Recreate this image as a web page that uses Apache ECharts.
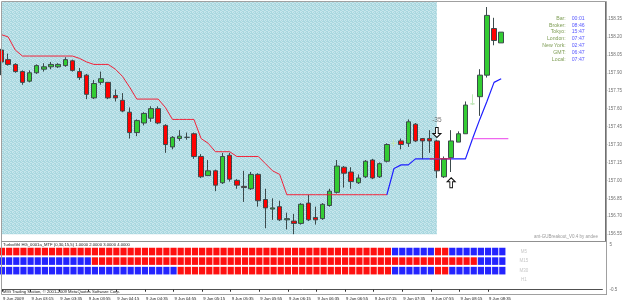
<!DOCTYPE html>
<html>
<head>
<meta charset="utf-8">
<script src="https://cdn.jsdelivr.net/npm/echarts@6/dist/echarts.min.js"></script>
<style>
html, body { margin: 0; padding: 0; background: #fff; }
#main { width: 625px; height: 304px; }
</style>
</head>
<body>
<div id="main"></div>
<script>
// bar data, 5 minute bars from 02:55
var ohlc = [
  [158.09, 157.99, 157.88, 158.10], [158.01, 157.97, 157.96, 158.06], [157.97, 157.91, 157.90, 157.98],
  [157.91, 157.82, 157.80, 157.92], [157.83, 157.90, 157.82, 157.92], [157.90, 157.96, 157.89, 157.97],
  [157.93, 157.95, 157.91, 157.98], [157.95, 157.97, 157.93, 157.99], [157.95, 157.97, 157.94, 157.98],
  [157.96, 158.01, 157.95, 158.03], [158.00, 157.92, 157.91, 158.01], [157.91, 157.86, 157.84, 157.94],
  [157.88, 157.72, 157.68, 157.89], [157.69, 157.81, 157.68, 157.84], [157.82, 157.85, 157.80, 157.91],
  [157.82, 157.69, 157.68, 157.82], [157.71, 157.69, 157.66, 157.76], [157.67, 157.58, 157.57, 157.73],
  [157.57, 157.40, 157.35, 157.61], [157.40, 157.50, 157.37, 157.51], [157.48, 157.56, 157.46, 157.57],
  [157.52, 157.60, 157.49, 157.62], [157.60, 157.48, 157.47, 157.62], [157.46, 157.30, 157.23, 157.47],
  [157.28, 157.36, 157.26, 157.37], [157.35, 157.37, 157.33, 157.42], [157.36, 157.36, 157.34, 157.40],
  [157.39, 157.20, 157.18, 157.40], [157.20, 157.03, 157.02, 157.22], [157.04, 157.08, 157.04, 157.17],
  [157.08, 156.96, 156.91, 157.09], [156.98, 157.20, 156.97, 157.23], [157.21, 157.01, 156.99, 157.23],
  [157.00, 156.96, 156.93, 157.01], [156.95, 156.94, 156.82, 157.08], [156.93, 157.05, 156.92, 157.07],
  [157.05, 156.83, 156.78, 157.06], [156.84, 156.77, 156.60, 156.93], [156.76, 156.77, 156.67, 156.85],
  [156.78, 156.67, 156.66, 156.83], [156.67, 156.68, 156.59, 156.73], [156.66, 156.64, 156.55, 156.72],
  [156.64, 156.80, 156.63, 156.81], [156.81, 156.67, 156.66, 156.88], [156.69, 156.67, 156.63, 156.78],
  [156.68, 156.80, 156.67, 156.81], [156.79, 156.91, 156.78, 156.93], [156.90, 157.12, 156.89, 157.17],
  [157.11, 157.06, 156.94, 157.12], [157.07, 156.99, 156.93, 157.11], [156.98, 157.02, 156.97, 157.05],
  [157.03, 157.16, 157.02, 157.17], [157.17, 157.02, 157.01, 157.18], [157.03, 157.14, 157.02, 157.15],
  [157.16, 157.30, 157.15, 157.31], [157.31, 157.31, 157.28, 157.34], [157.33, 157.30, 157.26, 157.35],
  [157.31, 157.49, 157.28, 157.51], [157.47, 157.33, 157.32, 157.48], [157.35, 157.33, 157.18, 157.35],
  [157.35, 157.33, 157.23, 157.42], [157.33, 157.08, 157.02, 157.34], [157.03, 157.18, 157.02, 157.20],
  [157.19, 157.33, 157.07, 157.42], [157.32, 157.39, 157.32, 157.41], [157.39, 157.63, 157.39, 157.66],
  [157.64, 157.64, 157.63, 157.72], [157.70, 157.88, 157.54, 157.93], [157.88, 158.38, 157.86, 158.45],
  [158.27, 158.17, 158.13, 158.36], [158.15, 158.24, 158.15, 158.24]
];
var ghostBars = [55, 66];

// trailing stop of the breakout indicator, red while short, blue once long
var trailStop = [
  158.22, 158.20, 158.09, 158.04, 158.04, 158.04, 158.04, 158.04, 158.04, 158.04, 158.04,
  158.02, 157.99, 157.97, 157.97, 157.97, 157.93, 157.87, 157.78, 157.68, 157.68, 157.68,
  157.68, 157.61, 157.51, 157.51, 157.51, 157.51, 157.35, 157.31, 157.24, 157.24, 157.24,
  157.20, 157.20, 157.20, 157.20, 157.14, 157.08, 157.05, 156.88, 156.88, 156.88, 156.88,
  156.88, 156.88, 156.88, 156.88, 156.88, 156.88, 156.88, 156.88, 156.88, 156.88, 156.88,
  157.10, 157.13, 157.13, 157.18, 157.18, 157.18, 157.18, 157.18, 157.18, 157.18, 157.18,
  157.35, 157.51, 157.66, 157.82, 157.85
];
var switchBar = 54;
var entrySeg = { from: 60, to: 63, price: 157.18 };
var targetSeg = { from: 66, to: 71, price: 157.35 };
var boxRange = { from: 0, to: 61, low: 156.55 };

var priceTicks = [156.55, 156.70, 156.85, 157.00, 157.15, 157.30, 157.45, 157.60, 157.75, 157.90, 158.05, 158.20, 158.35];
var lastPrice = 158.24;
var timeLabels = ['9 Jun 2009', '9 Jun 03:15', '9 Jun 03:35', '9 Jun 03:55', '9 Jun 04:15', '9 Jun 04:35',
  '9 Jun 04:55', '9 Jun 05:15', '9 Jun 05:35', '9 Jun 05:55', '9 Jun 06:15', '9 Jun 06:35',
  '9 Jun 06:55', '9 Jun 07:15', '9 Jun 07:35', '9 Jun 07:55', '9 Jun 08:15', '9 Jun 08:35'];

// MTF trend ribbon, runs of [trend, bars]; 1 = up (blue), -1 = down (red)
var tfNames = ['M5', 'M15', 'M30', 'H1'];
var tfLevels = [4, 3, 2, 1];
var tfRuns = [
  [[-1, 55], [1, 6], [-1, 2], [1, 8]],
  [[1, 13], [-1, 54], [1, 4]],
  [[1, 25], [-1, 30], [1, 6], [-1, 2], [1, 8]]
];

var infoLabels = ['Bar:', 'Broker:', 'Tokyo:', 'London:', 'New York:', 'GMT:', 'Local:'];
var infoValues = ['00:01', '08:46', '15:47', '07:47', '02:47', '06:47', '07:47'];

var arrowDown = { bar: 61, price: 157.40, text: '-35', textPrice: 157.50 };
var arrowUp = { bar: 63, price: 156.98 };

var totalBars = 85;
var cats = [];
for (var i = 0; i < totalBars; i++) {
  var m = 2 * 60 + 55 + i * 5;
  cats.push(('0' + Math.floor(m / 60)).slice(-2) + ':' + ('0' + m % 60).slice(-2));
}

var candleData = ohlc.map(function (d, i) {
  if (ghostBars.indexOf(i) >= 0) {
    return { value: d, itemStyle: { color: '#bfe6b8', color0: '#bfe6b8', borderColor: '#bfe6b8', borderColor0: '#bfe6b8', borderColorDoji: '#bfe6b8' } };
  }
  return d;
});
var redLine = trailStop.map(function (v, i) { return i <= switchBar ? v : null; });
var blueLine = trailStop.map(function (v, i) { return i >= switchBar ? v : null; });
function segment(s) {
  var arr = [];
  for (var i = 0; i < totalBars; i++) arr.push(i >= s.from && i <= s.to ? s.price : null);
  return arr;
}

var cells = [];
tfRuns.forEach(function (runs, r) {
  var k = 0;
  runs.forEach(function (run) {
    for (var j = 0; j < run[1]; j++) {
      cells.push({ value: [k, tfLevels[r]], itemStyle: { color: run[0] > 0 ? '#2424ff' : '#ff1010' } });
      k++;
    }
  });
});

// dotted background of the breakout box
var pat = document.createElement('canvas');
pat.width = 4; pat.height = 4;
var g = pat.getContext('2d');
g.fillStyle = '#a9d7df';
g.fillRect(0, 0, 4, 4);
g.fillStyle = '#c6e6ec';
[[0, 0], [2, 0], [1, 1], [3, 2], [0, 3], [2, 2], [1, 3]].forEach(function (p) { g.fillRect(p[0], p[1], 1, 1); });

var yMin = 156.493, yMax = 158.492;
var tinyFont = 'Liberation Sans';

var chart = echarts.init(document.getElementById('main'), null, { renderer: 'canvas' });
var option = {
  animation: false,
  backgroundColor: '#fff',
  textStyle: { fontFamily: tinyFont },
  grid: [
    { left: 1, right: 22.6, top: 2, height: 239 },
    { left: 1, right: 22.6, top: 242, height: 52.5 }
  ],
  xAxis: [
    {
      type: 'category', gridIndex: 0, data: cats, boundaryGap: false,
      axisLine: { show: false }, axisTick: { show: false }, axisLabel: { show: false }, splitLine: { show: false }
    },
    {
      type: 'category', gridIndex: 1, data: cats, boundaryGap: false,
      axisLine: { lineStyle: { color: '#505050', width: 1 } },
      axisTick: {
        interval: function (i) { return i % 4 === 0 && i <= 68; },
        length: 2, lineStyle: { color: '#303030' }
      },
      axisLabel: {
        interval: function (i) { return i % 4 === 0 && i <= 68; },
        formatter: function (v, i) { return timeLabels[i / 4]; },
        align: 'left', fontSize: 4.2, color: '#202020', margin: 2.5, padding: [0, 0, 0, 1]
      },
      splitLine: { show: false }
    }
  ],
  yAxis: [
    {
      type: 'value', gridIndex: 0, position: 'right', offset: 4, min: yMin, max: yMax,
      axisLine: { show: true, lineStyle: { color: '#707070' } },
      axisTick: { show: true, customValues: priceTicks, length: 2, lineStyle: { color: '#707070' } },
      axisLabel: {
        customValues: priceTicks, fontSize: 4.5, color: '#707070', margin: 3,
        formatter: function (v) { return v.toFixed(2); }
      },
      splitLine: { show: false }
    },
    {
      type: 'value', gridIndex: 1, position: 'right', offset: 4, min: -0.5, max: 5,
      axisLine: { show: true, lineStyle: { color: '#707070' } },
      axisTick: { show: false },
      axisLabel: {
        customValues: [5, -0.5], fontSize: 4.5, color: '#707070', margin: 3,
        formatter: function (v) { return v === 5 ? '{t|5}' : '{b|-0.5}'; },
        rich: { t: { padding: [6, 0, 0, 0], fontSize: 4.5, color: '#707070' }, b: { padding: [0, 0, 9, 0], fontSize: 4.5, color: '#707070' } }
      },
      splitLine: { show: false }
    }
  ],
  series: [
    {
      type: 'line', xAxisIndex: 0, yAxisIndex: 0, data: [], z: 0, silent: true,
      markArea: {
        silent: true,
        itemStyle: { color: { image: pat, repeat: 'repeat' } },
        data: [[{ xAxis: boxRange.from, yAxis: boxRange.low }, { xAxis: boxRange.to, yAxis: yMax }]]
      }
    },
    {
      type: 'candlestick', xAxisIndex: 0, yAxisIndex: 0, data: candleData, barWidth: 5, z: 3,
      itemStyle: {
        color: '#33cc33', color0: '#ff0000',
        borderColor: '#3c4a4c', borderColor0: '#3c4a4c', borderColorDoji: '#3c4a4c', borderWidth: 1
      },
      markLine: {
        silent: true, symbol: 'none',
        lineStyle: { opacity: 0 },
        label: {
          position: 'end', distance: 6, formatter: lastPrice.toFixed(2),
          backgroundColor: '#000', color: '#fff', fontSize: 4.5, padding: [1, 1, 0, 1]
        },
        data: [{ yAxis: lastPrice }]
      }
    },
    {
      type: 'line', xAxisIndex: 0, yAxisIndex: 0, data: redLine, symbol: 'none', z: 4,
      lineStyle: { color: '#f2233a', width: 1 }
    },
    {
      type: 'line', xAxisIndex: 0, yAxisIndex: 0, data: blueLine, symbol: 'none', z: 4,
      lineStyle: { color: '#1f1fff', width: 1.2 }
    },
    {
      type: 'line', xAxisIndex: 0, yAxisIndex: 0, data: segment(entrySeg), symbol: 'none', z: 5,
      lineStyle: { color: '#ff2a2a', width: 1 }
    },
    {
      type: 'line', xAxisIndex: 0, yAxisIndex: 0, data: segment(targetSeg), symbol: 'none', z: 5,
      lineStyle: { color: '#ee66ee', width: 1.2 }
    },
    {
      type: 'scatter', xAxisIndex: 0, yAxisIndex: 0, z: 6,
      data: [
        { value: [arrowDown.bar, arrowDown.price], symbol: 'path://M3,0L6,0L6,6L9,6L4.5,10L0,6L3,6Z' },
        { value: [arrowUp.bar, arrowUp.price], symbol: 'path://M4.5,0L9,4L6,4L6,10L3,10L3,4L0,4Z' }
      ],
      symbolSize: [8, 10],
      itemStyle: { color: '#fff', borderColor: '#111', borderWidth: 1, opacity: 1 }
    },
    {
      type: 'scatter', xAxisIndex: 0, yAxisIndex: 0, z: 6, symbolSize: 0,
      data: [[arrowDown.bar, arrowDown.textPrice]],
      label: { show: true, position: 'inside', formatter: arrowDown.text, fontSize: 6.5, color: '#555' }
    },
    {
      type: 'scatter', xAxisIndex: 1, yAxisIndex: 1, data: cells, symbol: 'rect', symbolSize: [6.2, 7.6], z: 3,
      itemStyle: { opacity: 1 }
    },
    {
      type: 'scatter', xAxisIndex: 1, yAxisIndex: 1, symbolSize: 0, z: 3,
      data: tfNames.map(function (n, i) { return { value: [73, tfLevels[i]], name: n }; }),
      label: { show: true, position: 'inside', formatter: '{b}', fontSize: 4.5, color: '#b8b8b8' }
    }
  ],
  graphic: [
    { type: 'rect', shape: { x: 1.5, y: 1.5, width: 605, height: 293 }, style: { fill: null, stroke: '#a0a0a0', lineWidth: 1 }, z: 10 },
    { type: 'line', shape: { x1: 1.5, y1: 241.5, x2: 606.5, y2: 241.5 }, style: { stroke: '#909090', lineWidth: 1 }, z: 10 },
    { type: 'text', left: 3, top: 243, style: { text: 'TurboGhl HG_0001a_MTF (0,30,15,5) 1.0000 2.0000 3.0000 4.0000', font: '4.2px ' + tinyFont, fill: '#202020' }, z: 10 },
    { type: 'text', left: 3, top: 289.5, style: { text: 'MIG Trading Station, © 2001-2009 MetaQuotes Software Corp.', font: '4.2px ' + tinyFont, fill: '#202020' }, z: 10 },
    { type: 'text', right: 27, top: 234.5, style: { text: 'ant-GUBreakout_V0.4 by andee', font: '4.5px ' + tinyFont, fill: '#9a9a9a' }, z: 10 }
  ].concat(infoLabels.map(function (t, i) {
    return { type: 'text', x: 565.7, y: 15.8 + i * 6.8, style: { text: t, font: '5.2px ' + tinyFont, fill: '#7e9d55', align: 'right' }, z: 10 };
  })).concat(infoValues.map(function (t, i) {
    return { type: 'text', x: 571.7, y: 15.8 + i * 6.8, style: { text: t, font: '5.2px ' + tinyFont, fill: '#5a5aff', align: 'left' }, z: 10 };
  }))
};
chart.setOption(option);
</script>
</body>
</html>
